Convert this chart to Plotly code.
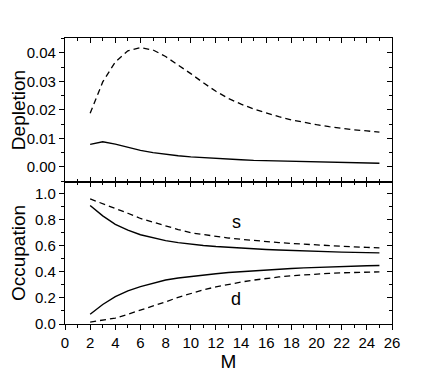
import plotly.graph_objects as go

# data
M = list(range(2, 26))

depl_dash = [0.0188, 0.0298, 0.0368, 0.0407, 0.0418, 0.0410, 0.0387, 0.0358, 0.0327, 0.0295,
             0.0265, 0.0240, 0.0220, 0.0203, 0.0189, 0.0176, 0.0165, 0.0156, 0.0148, 0.0141,
             0.0135, 0.0130, 0.0126, 0.0122]
depl_solid = [0.0079, 0.0088, 0.0080, 0.0068, 0.0058, 0.0050, 0.0044, 0.0039, 0.0035, 0.0032,
              0.0029, 0.0027, 0.0025, 0.0023, 0.0022, 0.0021, 0.0020, 0.0019, 0.0018, 0.0017,
              0.0016, 0.0015, 0.0014, 0.0013]

s_dash = [0.96, 0.925, 0.89, 0.85, 0.81, 0.78, 0.75, 0.725, 0.70, 0.685, 0.67, 0.66,
          0.65, 0.64, 0.632, 0.625, 0.618, 0.612, 0.606, 0.60, 0.596, 0.592, 0.588, 0.585]
s_solid = [0.91, 0.83, 0.765, 0.72, 0.685, 0.66, 0.64, 0.625, 0.613, 0.603, 0.595, 0.588,
           0.582, 0.577, 0.572, 0.568, 0.564, 0.561, 0.558, 0.555, 0.552, 0.55, 0.548, 0.546]
d_solid = [0.075, 0.15, 0.21, 0.255, 0.287, 0.315, 0.338, 0.353, 0.365, 0.376, 0.386, 0.395,
           0.402, 0.409, 0.415, 0.421, 0.426, 0.431, 0.435, 0.439, 0.442, 0.445, 0.447, 0.449]
d_dash = [0.015, 0.028, 0.045, 0.075, 0.105, 0.14, 0.17, 0.205, 0.235, 0.262, 0.285, 0.305,
          0.322, 0.337, 0.35, 0.361, 0.37, 0.378, 0.384, 0.389, 0.393, 0.396, 0.398, 0.40]

FONT = "Liberation Sans, Arial, sans-serif"
solid = dict(color="black", width=1.4)
dashed = dict(color="black", width=1.3, dash="6px,4px")

fig = go.Figure()
fig.add_trace(go.Scatter(x=M, y=depl_dash, mode="lines", line=dashed, xaxis="x2", yaxis="y2"))
fig.add_trace(go.Scatter(x=M, y=depl_solid, mode="lines", line=solid, xaxis="x2", yaxis="y2"))
fig.add_trace(go.Scatter(x=M, y=s_dash, mode="lines", line=dashed))
fig.add_trace(go.Scatter(x=M, y=s_solid, mode="lines", line=solid))
fig.add_trace(go.Scatter(x=M, y=d_solid, mode="lines", line=solid))
fig.add_trace(go.Scatter(x=M, y=d_dash, mode="lines", line=dashed))
# empty traces so the mirrored frame axes get drawn
fig.add_trace(go.Scatter(x=[None], y=[None], mode="lines", xaxis="x3", yaxis="y3", hoverinfo="skip"))
fig.add_trace(go.Scatter(x=[None], y=[None], mode="lines", xaxis="x4", yaxis="y4", hoverinfo="skip"))

split = 0.4965
common = dict(showline=True, linecolor="black", linewidth=1.2, showgrid=False, zeroline=False,
              ticklen=5, tickwidth=1, tickcolor="black", automargin=False,
              tickfont=dict(family=FONT, size=15, color="black"))
tfont = dict(family=FONT, size=19, color="black")

# page body adds an 8px margin, so the figure is a bit smaller than the window
fig.update_layout(
    width=428, height=374,
    margin=dict(l=57, r=44, t=30, b=58),
    plot_bgcolor="white", paper_bgcolor="white",
    showlegend=False,
    xaxis=dict(common, anchor="y", domain=[0, 1], range=[0, 26], dtick=2, ticks="outside",
               minor=dict(dtick=1, ticks="outside", ticklen=3, tickcolor="black"),
               title=dict(text="M", font=tfont, standoff=0)),
    yaxis=dict(common, anchor="x", domain=[0, split], range=[0, 1.09], dtick=0.2,
               tickformat=".1f", ticks="outside",
               minor=dict(dtick=0.1, ticks="outside", ticklen=3, tickcolor="black"),
               title=dict(text="Occupation", font=tfont, standoff=4)),
    xaxis2=dict(common, anchor="y2", domain=[0, 1], range=[0, 26], dtick=2, ticks="inside",
                showticklabels=False,
                minor=dict(dtick=1, ticks="inside", ticklen=3, tickcolor="black")),
    yaxis2=dict(common, anchor="x2", domain=[split, 1], range=[-0.0053, 0.0452], dtick=0.01,
                tickformat=".2f", ticks="outside",
                minor=dict(dtick=0.005, ticks="outside", ticklen=3, tickcolor="black"),
                title=dict(text="Depletion", font=tfont, standoff=4)),
    # mirrored frames with inward ticks
    xaxis3=dict(common, overlaying="x2", anchor="y3", side="top", range=[0, 26], dtick=2,
                ticks="inside", showticklabels=False,
                minor=dict(dtick=1, ticks="inside", ticklen=3, tickcolor="black")),
    yaxis3=dict(common, overlaying="y2", anchor="x3", side="right", range=[-0.0053, 0.0452],
                dtick=0.01, ticks="inside", showticklabels=False,
                minor=dict(dtick=0.005, ticks="inside", ticklen=3, tickcolor="black")),
    xaxis4=dict(common, overlaying="x", anchor="y4", side="top", range=[0, 26], dtick=2,
                ticks="inside", showticklabels=False,
                minor=dict(dtick=1, ticks="inside", ticklen=3, tickcolor="black")),
    yaxis4=dict(common, overlaying="y", anchor="x4", side="right", range=[0, 1.09], dtick=0.2,
                ticks="inside", showticklabels=False,
                minor=dict(dtick=0.1, ticks="inside", ticklen=3, tickcolor="black")),
)

fig.add_annotation(x=13.6, y=0.785, xref="x", yref="y", text="s", showarrow=False,
                   font=dict(family=FONT, size=18, color="black"))
fig.add_annotation(x=13.6, y=0.19, xref="x", yref="y", text="d", showarrow=False,
                   font=dict(family=FONT, size=18, color="black"))

fig.write_html("out.html")
